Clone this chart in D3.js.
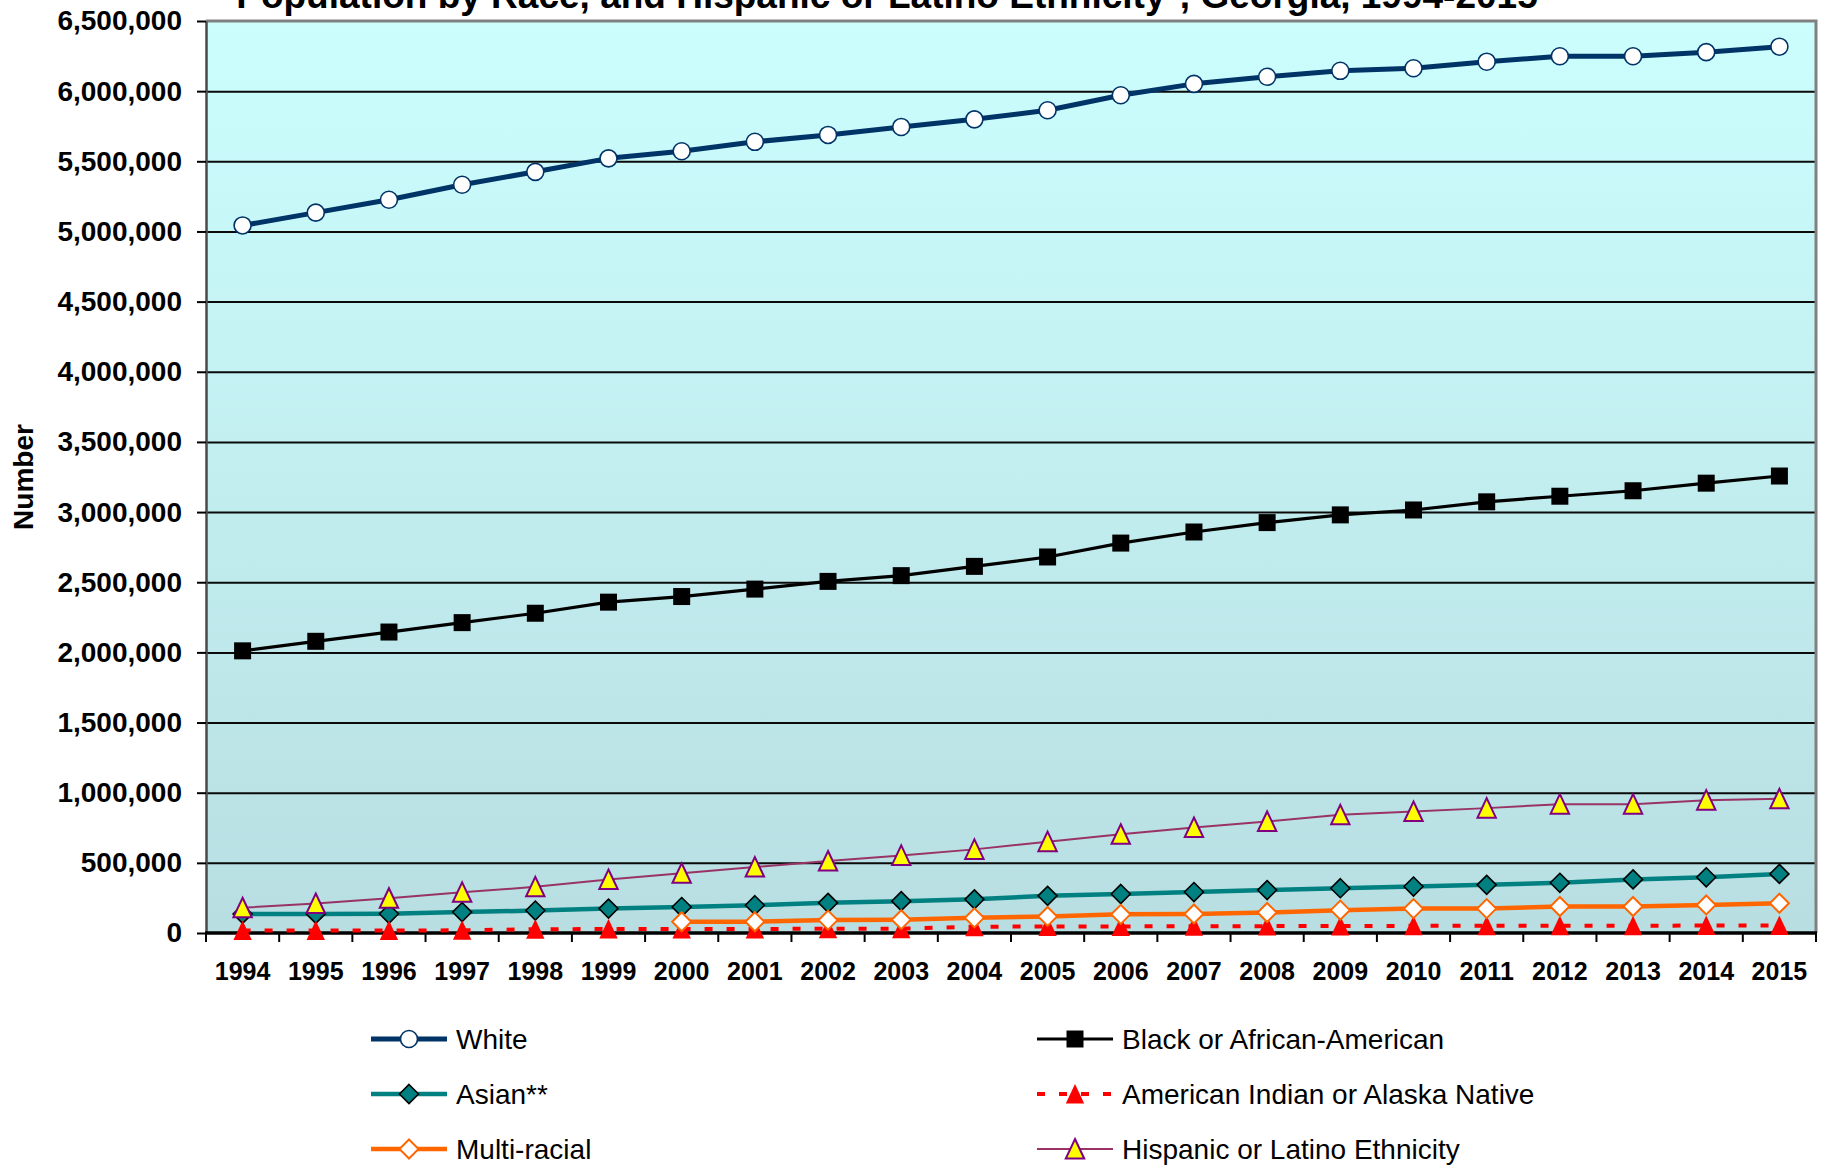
<!DOCTYPE html>
<html>
<head>
<meta charset="utf-8">
<script src="https://cdn.jsdelivr.net/npm/d3@7/dist/d3.min.js"></script>
<style>
  html, body { margin: 0; padding: 0; background: #ffffff; }
  svg { display: block; font-family: "Liberation Sans", Arial, sans-serif; }
</style>
</head>
<body>
<svg id="chart" width="1827" height="1165"></svg>
<script>
// Georgia population by race and Hispanic/Latino ethnicity, 1994-2015
const years = [1994, 1995, 1996, 1997, 1998, 1999, 2000, 2001, 2002, 2003, 2004,
               2005, 2006, 2007, 2008, 2009, 2010, 2011, 2012, 2013, 2014, 2015];

const white = [5043000, 5134000, 5226000, 5333000, 5425000, 5521000, 5572000, 5639000,
               5688000, 5745000, 5799000, 5864000, 5971000, 6052000, 6103000, 6145000,
               6163000, 6210000, 6249000, 6249000, 6278000, 6317000];

const black = [2011000, 2079000, 2145000, 2212000, 2279000, 2358000, 2398000, 2451000,
               2506000, 2547000, 2613000, 2680000, 2779000, 2858000, 2925000, 2980000,
               3015000, 3073000, 3113000, 3152000, 3206000, 3257000];

const asian = [136000, 136000, 137000, 149000, 160000, 174000, 185000, 198000,
               215000, 227000, 240000, 265000, 278000, 292000, 306000, 319000,
               331000, 343000, 358000, 382000, 397000, 421000];

const amIndian = [17000, 17000, 18000, 19000, 27000, 28000, 28000, 29000,
                  30000, 31000, 45000, 46000, 47000, 48000, 49000, 50000,
                  51000, 51000, 52000, 52000, 53000, 54000];

const multiRacial = [null, null, null, null, null, null, 80000, 80000,
                     92000, 95000, 108000, 118000, 133000, 136000, 146000, 163000,
                     174000, 174000, 189000, 189000, 200000, 212000];

const hispanic = [180000, 210000, 248000, 290000, 329000, 381000, 426000, 470000,
                  513000, 553000, 596000, 651000, 704000, 752000, 795000, 842000,
                  866000, 890000, 918000, 918000, 947000, 956000];

const yTicks = [0, 500000, 1000000, 1500000, 2000000, 2500000, 3000000, 3500000,
                4000000, 4500000, 5000000, 5500000, 6000000, 6500000];

const titleText = "Population by Race, and Hispanic or Latino Ethnicity*, Georgia, 1994-2015";
const yAxisTitle = "Number";

// Series definitions: name, values and drawing style
const series = [
  { name: "White", values: white, stroke: "#003366", width: 5, dash: null,
    marker: "circle", fill: "#ffffff", mStroke: "#003366", mWidth: 1.6 },
  { name: "Black or African-American", values: black, stroke: "#000000", width: 3.2, dash: null,
    marker: "square", fill: "#000000", mStroke: "#000000", mWidth: 0 },
  { name: "Asian**", values: asian, stroke: "#008080", width: 4.5, dash: null,
    marker: "diamond", fill: "#008080", mStroke: "#000000", mWidth: 1.6 },
  { name: "American Indian or Alaska Native", values: amIndian, stroke: "#ff0000", width: 4, dash: "8,14",
    marker: "triangle", fill: "#ff0000", mStroke: "none", mWidth: 0 },
  { name: "Multi-racial", values: multiRacial, stroke: "#ff6600", width: 4.5, dash: null,
    marker: "diamond", fill: "#ffffff", mStroke: "#ff6600", mWidth: 2 },
  { name: "Hispanic or Latino Ethnicity", values: hispanic, stroke: "#993366", width: 2, dash: null,
    marker: "triangle", fill: "#ffff00", mStroke: "#800080", mWidth: 2 }
];

const plot = { left: 206, right: 1816, top: 21, bottom: 933 };

const svg = d3.select("#chart");

const x = d3.scaleBand().domain(years).range([plot.left, plot.right]).padding(0);
const y = d3.scaleLinear().domain([0, 6500000]).range([plot.bottom, plot.top]);
const cx = d => x(d) + x.bandwidth() / 2;

// Plot area background gradient
const defs = svg.append("defs");
const grad = defs.append("linearGradient").attr("id", "plotBg")
  .attr("x1", 0).attr("y1", 0).attr("x2", 0).attr("y2", 1);
grad.append("stop").attr("offset", "0%").attr("stop-color", "#ccfefe");
grad.append("stop").attr("offset", "100%").attr("stop-color", "#b8dee2");

svg.append("rect")
  .attr("x", plot.left).attr("y", plot.top)
  .attr("width", plot.right - plot.left).attr("height", plot.bottom - plot.top)
  .attr("fill", "url(#plotBg)");

// Horizontal gridlines
const grid = svg.append("g")
  .attr("transform", `translate(${plot.left},0)`)
  .call(d3.axisLeft(y).tickValues(yTicks.filter(v => v > 0 && v < 6500000))
    .tickSize(-(plot.right - plot.left)).tickFormat(""));
grid.select(".domain").remove();
grid.selectAll(".tick line").attr("stroke", "#0a0a0a").attr("stroke-width", 2);

// Plot area frame (top and right edges)
svg.append("path")
  .attr("d", `M${plot.left},${plot.top} H${plot.right} V${plot.bottom}`)
  .attr("fill", "none").attr("stroke", "#808080").attr("stroke-width", 3);

// Y axis
const yAxis = svg.append("g")
  .attr("transform", `translate(${plot.left},0)`)
  .call(d3.axisLeft(y).tickValues(yTicks).tickFormat(d3.format(",")).tickSize(9).tickSizeOuter(0).tickPadding(15));
yAxis.select(".domain").attr("stroke", "#4a4a4a").attr("stroke-width", 2.5);
yAxis.selectAll(".tick line").attr("stroke", "#000").attr("stroke-width", 2);
yAxis.selectAll(".tick text")
  .attr("fill", "#000").attr("font-size", 28).attr("font-weight", "bold")
  .attr("font-family", "Liberation Sans, Arial, sans-serif");

// X axis: labels centred in each category, ticks on category boundaries
const xAxis = svg.append("g")
  .attr("transform", `translate(0,${plot.bottom})`)
  .call(d3.axisBottom(x).tickSize(0).tickPadding(29));
xAxis.select(".domain").remove();
xAxis.selectAll(".tick text")
  .attr("fill", "#000").attr("font-size", 25).attr("font-weight", "bold")
  .attr("font-family", "Liberation Sans, Arial, sans-serif");

const boundaries = years.map(d => x(d)).concat([x(years[years.length - 1]) + x.bandwidth()]);
svg.append("g").selectAll("line").data(boundaries).join("line")
  .attr("x1", d => d).attr("x2", d => d)
  .attr("y1", plot.bottom).attr("y2", plot.bottom + 9)
  .attr("stroke", "#000").attr("stroke-width", 2);

svg.append("line")
  .attr("x1", plot.left - 1).attr("x2", plot.right + 1)
  .attr("y1", plot.bottom).attr("y2", plot.bottom)
  .attr("stroke", "#000").attr("stroke-width", 3.5);

// Marker shapes centred on (0,0)
function markerPath(type) {
  switch (type) {
    case "circle": {
      const p = d3.path(); p.arc(0, 0, 8.5, 0, 2 * Math.PI); p.closePath(); return p.toString();
    }
    case "square": return "M-8.5,-8.5H8.5V8.5H-8.5Z";
    case "diamond": return "M0,-9.5L9.5,0L0,9.5L-9.5,0Z";
    case "triangle": return "M0,-10L9.2,9.5H-9.2Z";
  }
}

const line = d3.line()
  .defined(d => d.v != null)
  .x(d => cx(d.year))
  .y(d => y(d.v));

series.forEach(s => {
  const pts = years.map((yr, i) => ({ year: yr, v: s.values[i] }));
  const g = svg.append("g");
  g.append("path")
    .datum(pts)
    .attr("d", line)
    .attr("fill", "none")
    .attr("stroke", s.stroke)
    .attr("stroke-width", s.width)
    .attr("stroke-linejoin", "round")
    .attr("stroke-dasharray", s.dash);
  g.selectAll("path.mk").data(pts.filter(d => d.v != null)).join("path")
    .attr("class", "mk")
    .attr("transform", d => `translate(${cx(d.year)},${y(d.v)})`)
    .attr("d", markerPath(s.marker))
    .attr("fill", s.fill)
    .attr("stroke", s.mStroke)
    .attr("stroke-width", s.mWidth)
    .attr("stroke-linejoin", "miter");
});

// Title (partly above the top edge of the page)
svg.append("text")
  .attr("x", 887).attr("y", 8)
  .attr("text-anchor", "middle")
  .attr("font-size", 37).attr("font-weight", "bold").attr("fill", "#000")
  .text(titleText);

// Y axis title
svg.append("text")
  .attr("transform", "translate(33,477) rotate(-90)")
  .attr("text-anchor", "middle")
  .attr("font-size", 28).attr("font-weight", "bold").attr("fill", "#000")
  .text(yAxisTitle);

// Legend: two columns, three rows
const legendCols = [371, 1037];
const legendRows = [1039, 1094, 1149];
const legend = svg.append("g");
series.forEach((s, i) => {
  const lx = legendCols[i % 2];
  const ly = legendRows[Math.floor(i / 2)];
  const item = legend.append("g").attr("transform", `translate(${lx},${ly})`);
  item.append("line")
    .attr("x1", 0).attr("x2", 76).attr("y1", 0).attr("y2", 0)
    .attr("stroke", s.stroke).attr("stroke-width", s.width)
    .attr("stroke-dasharray", s.dash);
  item.append("path")
    .attr("transform", "translate(38,0)")
    .attr("d", markerPath(s.marker))
    .attr("fill", s.fill).attr("stroke", s.mStroke).attr("stroke-width", s.mWidth);
  item.append("text")
    .attr("x", 85).attr("y", 0).attr("dy", "0.35em")
    .attr("font-size", 28).attr("fill", "#000")
    .text(s.name);
});
</script>
</body>
</html>
